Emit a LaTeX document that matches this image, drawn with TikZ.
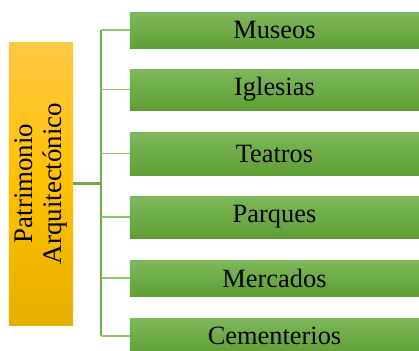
\documentclass[tikz,border=0pt]{standalone}
\usepackage{fontspec}
\setmainfont{Liberation Serif}
\usetikzlibrary{positioning}
\definecolor{verdesup}{HTML}{7EB85C}
\definecolor{verdeinf}{HTML}{5E9F34}
\definecolor{verdelinea}{HTML}{6FA94A}
\definecolor{verderama}{HTML}{8EC26C}
\definecolor{naranjasup}{HTML}{FFC845}
\definecolor{naranja}{HTML}{FFC000}
\definecolor{naranjainf}{HTML}{E6AF00}

\tikzset{
    caja/.style={minimum width=289bp, inner sep=0pt, top color=verdesup, bottom color=verdeinf,
        text=black, font=\fontsize{26.5}{28}\selectfont},
    raiz/.style={rotate=90, minimum width=283bp, minimum height=64bp, inner sep=0pt, align=center,
        top color=naranjasup, bottom color=naranjainf, middle color=naranja,
        text=black, font=\fontsize{27}{28.5}\selectfont},
    rama/.style={draw=verderama, line width=1.6bp},
    tronco/.style={draw=verdelinea, line width=2bp}
}

\begin{document}
\begin{tikzpicture}[x=1bp,y=-1bp]
    \useasboundingbox (0,0) rectangle (419,351);
    \node[raiz] (patrimonio) at (41,183.5) {Patrimonio\\Arquitectónico};
    \coordinate (bus) at (101,183.5);
    \node[caja, minimum height=36bp] (museos) at (274.5,30) {Museos};
    \node[caja, minimum height=41bp] (iglesias) at (274.5,89.5) {Iglesias};
    \node[caja, minimum height=43bp] (teatros) at (274.5,153.5) {Teatros};
    \node[caja, minimum height=42bp] (parques) at (274.5,217) {Parques};
    \node[caja, minimum height=36bp] (mercados) at (274.5,278) {Mercados};
    \node[caja, minimum height=36bp] (cementerios) at (274.5,336) {Cementerios};
    \draw[tronco] (museos.west -| bus) -- (cementerios.west -| bus);
    \draw[tronco, line width=3bp] (patrimonio.south) -- (bus);
    \foreach \n in {museos,iglesias,teatros,parques,mercados,cementerios}
        \draw[rama] (\n.west -| bus) -- (\n.west);
\end{tikzpicture}
\end{document}
